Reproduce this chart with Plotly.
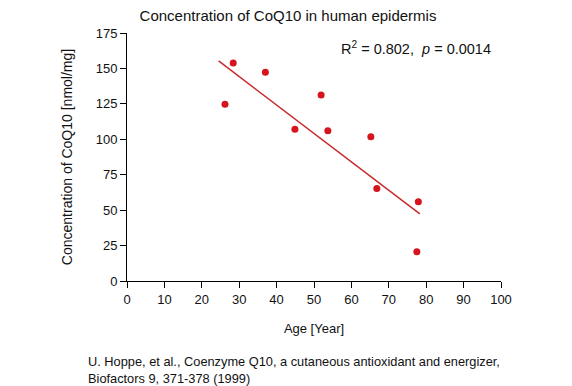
import plotly.graph_objects as go

age = [26.2, 28.4, 37.0, 44.9, 51.9, 53.7, 65.2, 66.8, 77.9, 77.5]
coq10 = [124.7, 153.8, 147.3, 107.0, 131.3, 106.1, 101.8, 65.2, 56.0, 20.7]
fit_age = [24.5, 78.3]
fit_coq10 = [155.3, 47.3]
x_ticks = list(range(0, 101, 10))
y_ticks = list(range(0, 176, 25))

font_main = "Liberation Sans, Arial, sans-serif"
font_num = "Liberation Sans, Arial, sans-serif"

# the page body has an 8px default margin; size the figure to fit the window
W, H = 564, 378

fig = go.Figure()
fig.add_trace(go.Scatter(x=fit_age, y=fit_coq10, mode="lines",
                         line=dict(color="#c8282c", width=1.5), showlegend=False))
fig.add_trace(go.Scatter(x=age, y=coq10, mode="markers",
                         marker=dict(color="#d7141e", size=7), showlegend=False))

fig.update_layout(
    width=W, height=H,
    margin=dict(l=119, r=71, t=25, b=105, autoexpand=False),
    paper_bgcolor="white", plot_bgcolor="white",
    title=dict(text="Concentration of CoQ10 in human epidermis", x=280 / W, xanchor="center",
               y=1 - 8 / H, yanchor="middle", font=dict(family=font_main, size=15, color="#111")),
    xaxis=dict(range=[0, 100], tickvals=x_ticks, ticks="outside", ticklen=6, tickwidth=1,
               tickcolor="black", showline=True, linecolor="black", linewidth=1,
               showgrid=False, zeroline=False, automargin=False,
               tickfont=dict(family=font_num, size=13, color="#111"),
               title=dict(text="Age [Year]", font=dict(family=font_main, size=13, color="#111"),
                          standoff=18)),
    yaxis=dict(range=[0, 175], tickvals=y_ticks, ticks="outside", ticklen=6, tickwidth=1,
               tickcolor="black", showline=True, linecolor="black", linewidth=1,
               showgrid=False, zeroline=False, automargin=False,
               tickfont=dict(family=font_num, size=13, color="#111"),
               title=dict(text="Concentration of CoQ10 [nmol/mg]",
                          font=dict(family=font_main, size=14, color="#111"), standoff=19)),
)

fig.add_annotation(xref="paper", yref="paper", x=(493 - 127) / 374, y=(281 - 48) / 248,
                   xanchor="right", yanchor="middle", showarrow=False,
                   text="R<sup>2</sup> = 0.802,  <i>p</i> = 0.0014",
                   font=dict(family=font_num, size=14.5, color="#111"))
fig.add_annotation(xref="paper", yref="paper", x=(86 - 127) / 374, y=(281 - 370) / 248,
                   xanchor="left", yanchor="middle", showarrow=False, align="left",
                   text="U. Hoppe, et al., Coenzyme Q10, a cutaneous antioxidant and energizer,<br>"
                        "Biofactors 9, 371-378 (1999)",
                   font=dict(family=font_main, size=12.8, color="#111"))

fig.write_html("out.html")
